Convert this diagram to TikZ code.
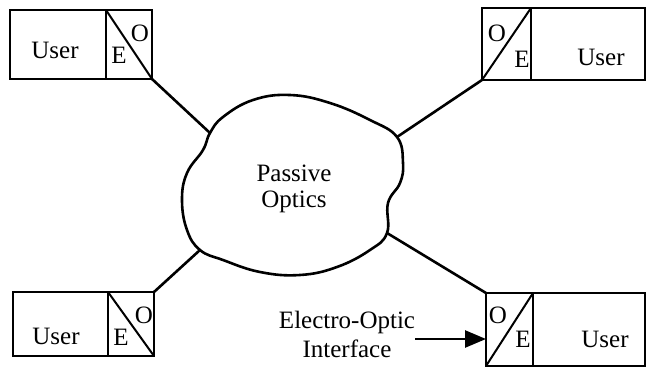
\documentclass[tikz,border=0pt]{standalone}
\usepackage{fontspec}
\setmainfont{Liberation Serif}
\usetikzlibrary{arrows.meta, positioning, calc}

\tikzset{
  box/.style={draw, line width=2pt, inner sep=0pt, outer sep=0pt},
  txt/.style={inner sep=0pt, font=\fontsize{25}{26}\selectfont},
  link/.style={line width=2.6pt},
}

\begin{document}
\begin{tikzpicture}[x=1pt, y=-1pt]
    \useasboundingbox (0,0) rectangle (647,369);

    % user boxes with their E/O squares
    \node[box, minimum width=96pt, minimum height=69pt] (u1) at (58,44.5) {};
    \node[box, minimum width=46pt, minimum height=69pt] (oe1) at (129,44.5) {};
    \node[box, minimum width=49pt, minimum height=72pt] (oe2) at (506.5,44) {};
    \node[box, minimum width=114pt, minimum height=72pt] (u2) at (588,44) {};
    \node[box, minimum width=95pt, minimum height=64pt] (u3) at (60.5,324) {};
    \node[box, minimum width=46pt, minimum height=64pt] (oe3) at (131,324) {};
    \node[box, minimum width=47pt, minimum height=73pt] (oe4) at (509.5,329.5) {};
    \node[box, minimum width=112pt, minimum height=73pt] (u4) at (589,329.5) {};

    \draw[box] (oe1.north west) -- (oe1.south east);
    \draw[box] (oe2.south west) -- (oe2.north east);
    \draw[box] (oe3.north west) -- (oe3.south east);
    \draw[box] (oe4.south west) -- (oe4.north east);

    \node[txt] (t1) at (55,50) {User};
    \node[txt] (t2) at (601,57) {User};
    \node[txt] (t3) at (56,336) {User};
    \node[txt] (t4) at (605,339) {User};

    \node[txt] (e1) at (119,55) {E};
    \node[txt] (o1) at (140,33) {O};
    \node[txt] (o2) at (497,33) {O};
    \node[txt] (e2) at (522,59) {E};
    \node[txt] (o3) at (144,315) {O};
    \node[txt] (e3) at (121,337) {E};
    \node[txt] (o4) at (498,315) {O};
    \node[txt] (e4) at (523,339) {E};

    % passive optics cloud
    \coordinate (jtl) at (210,133);
    \coordinate (jtr) at (397,137);
    \coordinate (jbr) at (387,233);
    \coordinate (jbl) at (200,250);
    \draw[link] plot[smooth cycle, tension=0.7] coordinates {
      (jtl) (223,117) (253,100) (290,95) (330,103) (370,120) (jtr)
      (403,163) (400,183) (388,203) (jbr) (370,250) (337,267) (300,275)
      (260,272) (223,260) (jbl) (187,230) (182,200) (187,173) (203,150)};
    \node[txt, align=center] (po) at (294,189) {Passive\\Optics};

    \draw[link] (oe1.south east) -- (jtl);
    \draw[link] (oe2.south west) -- (jtr);
    \draw[link] (oe3.north east) -- (jbl);
    \draw[link] (oe4.north west) -- (jbr);

    % label for the interface
    \node[txt, align=center, font=\fontsize{25}{29}\selectfont] (eoi) at (347,334) {Electro-Optic\\Interface};
    \coordinate (tail) at (415,339);
    \draw[link, -{Triangle[length=21pt, width=17pt]}] (tail) -- (tail -| oe4.west);
\end{tikzpicture}
\end{document}
